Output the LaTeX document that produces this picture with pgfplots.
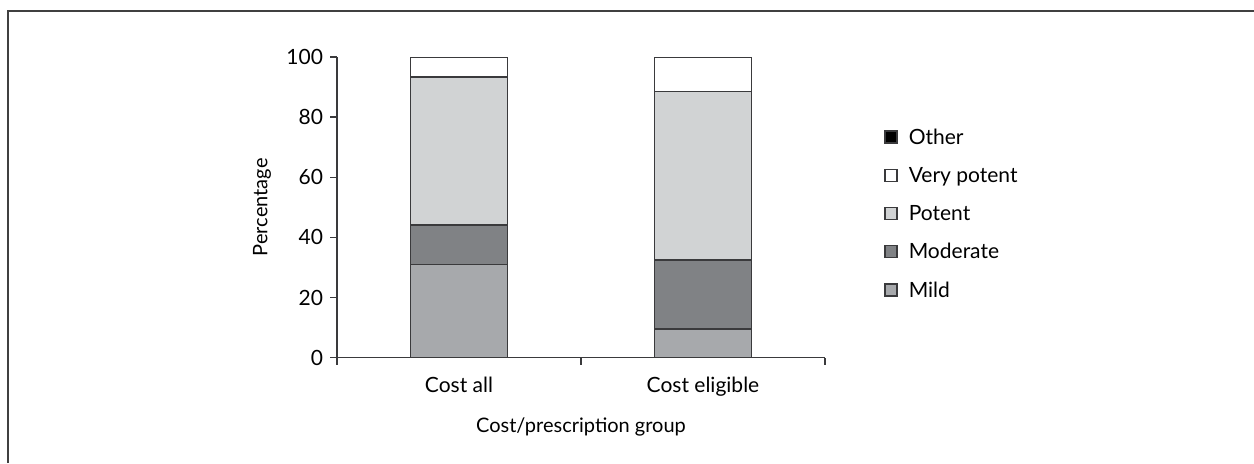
\documentclass[border=0pt]{standalone}
\usepackage{pgfplots}
\pgfplotsset{compat=1.18}
\usepackage{fontspec}
\setmainfont{Lato}
\definecolor{mild}{HTML}{A7A9AC}
\definecolor{moderate}{HTML}{808285}
\definecolor{potent}{HTML}{D1D3D4}
\definecolor{edge}{HTML}{3A3A3C}
\begin{document}
\begin{tikzpicture}
\useasboundingbox (0,0) rectangle (627pt,231.5pt);
\draw[line width=1pt, color=black!75] (4pt,0) -- (4pt,226pt) -- (627pt,226pt);
\begin{axis}[
  at={(168.5pt,52.65pt)}, anchor=south west,
  scale only axis, width=244pt, height=150.35pt,
  xmin=-0.5, xmax=1.5, ymin=0, ymax=100,
  ybar stacked, bar width=48.5pt,
  axis x line*=bottom, axis y line*=left,
  axis line style={draw=edge, line width=0.7pt, -},
  every tick/.style={draw=edge, line width=0.7pt},
  tick align=outside, major tick length=3.5pt,
  xtick={-0.5,0.5,1.5}, xticklabels={},
  extra x ticks={0,1}, extra x tick labels={Cost all, Cost eligible},
  extra x tick style={major tick length=0pt, xticklabel style={yshift=-6pt}},
  ytick={0,20,40,60,80,100},
  /pgf/number format/assume math mode=true,
  tick label style={font=\fontsize{10.5}{12}\selectfont, text=black},
  label style={font=\fontsize{10.5}{12}\selectfont, text=black},
  xlabel={Cost/prescription group},
  ylabel={Percentage},
  every axis x label/.style={at={(axis description cs:0.5,-0.2295)}, anchor=center},
  every axis y label/.style={at={(axis description cs:-0.1537,0.5)}, anchor=center, rotate=90},
  reverse legend,
  legend style={at={(1,0.5)}, anchor=west, xshift=29.5pt, yshift=-3.6pt, draw=none, fill=none,
    inner sep=0pt, row sep=8pt, font=\fontsize{10.5}{12}\selectfont,
    nodes={inner sep=1pt},
    /tikz/every odd column/.style={column sep=4.5pt}},
  legend cell align=left,
  legend image code/.code={\draw[#1, line width=0.7pt, draw=edge] (0pt,-2.5pt) rectangle (6pt,3.5pt);},
  every axis plot/.append style={draw=edge, line width=0.8pt},
]
\addplot[fill=mild] coordinates {(0,31) (1,9.5)};
\addplot[fill=moderate] coordinates {(0,13.2) (1,23)};
\addplot[fill=potent] coordinates {(0,49.1) (1,56)};
\addplot[fill=white] coordinates {(0,6.7) (1,11.5)};
\addplot[fill=black] coordinates {(0,0) (1,0)};
\legend{Mild, Moderate, Potent, Very potent, Other}
\end{axis}
\end{tikzpicture}
\end{document}
